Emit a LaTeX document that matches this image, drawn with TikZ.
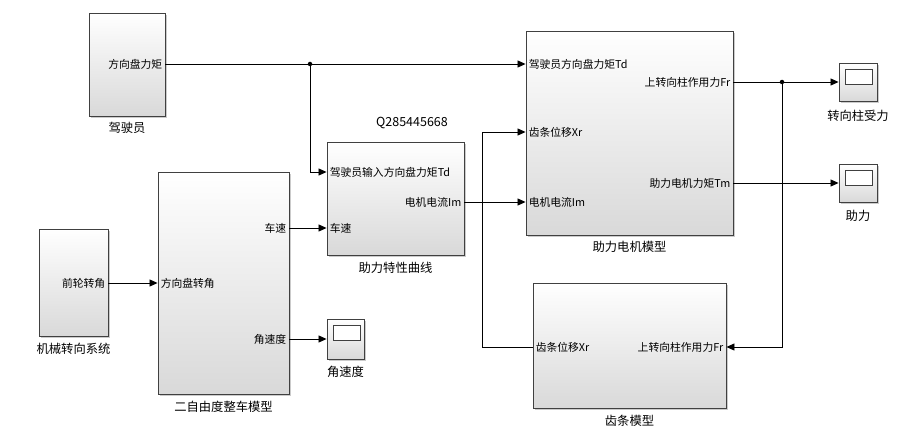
\documentclass[tikz,border=0pt]{standalone}
\usepackage{fontspec}
\newfontfamily\cjk{Noto Sans CJK SC}
\usetikzlibrary{arrows.meta,shadows,positioning}

\begin{document}
\begin{tikzpicture}[x=1pt,y=-1pt,
  blk/.style={draw=black!75,line width=0.9pt,inner sep=0pt,
    top color=white,middle color=white!96!black,bottom color=black!15,
    drop shadow={shadow xshift=1.8pt,shadow yshift=-1.8pt,fill=black!40,opacity=0.5}},
  scopeblk/.style={blk,minimum width=38pt,minimum height=38pt,
    path picture={\draw[line width=0.8pt,fill=white]
      ([shift={(6pt,-6pt)}]path picture bounding box.north west) rectangle ++(27pt,-15pt);}},
  port/.style={font=\cjk\fontsize{10.8}{11}\selectfont,inner sep=0pt},
  captxt/.style={font=\cjk\fontsize{12.3}{13}\selectfont,inner sep=0pt},
  sig/.style={line width=0.85pt,-{Triangle[length=8pt,width=7pt]}},
  dot/.style={circle,fill,inner sep=0pt,minimum size=4.5pt}
]
\useasboundingbox[fill=white] (0,0) rectangle (899,446);

% blocks
\node[blk,minimum width=76pt,minimum height=103pt] (drv) at (127,64.5) {};
\node[blk,minimum width=69pt,minimum height=107pt] (mech) at (73.5,282.5) {};
\node[blk,minimum width=131pt,minimum height=222pt] (veh) at (223.5,283) {};
\node[blk,minimum width=137pt,minimum height=113pt] (crv) at (395.5,198.5) {};
\node[blk,minimum width=207pt,minimum height=204pt] (mot) at (629.5,133) {};
\node[blk,minimum width=193pt,minimum height=125pt] (rack) at (629.5,345.5) {};
\node[scopeblk] (sc1) at (858,82) {};
\node[scopeblk] (sc2) at (858,183) {};
\node[scopeblk,minimum width=37pt,minimum height=40pt] (sc3) at (345.5,339) {};

% port labels
\node[port,anchor=east] (drv-o1) at ([xshift=-3pt]drv.east |- 0,64) {方向盘力矩};
\node[port,anchor=east] (mech-o1) at ([xshift=-3pt]mech.east |- 0,283) {前轮转角};
\node[port,anchor=west] (veh-i1) at ([xshift=3pt]veh.west |- 0,283) {方向盘转角};
\node[port,anchor=east] (veh-o1) at ([xshift=-3pt]veh.east |- 0,228) {车速};
\node[port,anchor=east] (veh-o2) at ([xshift=-3pt]veh.east |- 0,339) {角速度};
\node[port,anchor=west] (crv-i1) at ([xshift=3pt]crv.west |- 0,172) {驾驶员输入方向盘力矩Td};
\node[port,anchor=west] (crv-i2) at ([xshift=3pt]crv.west |- 0,228) {车速};
\node[port,anchor=east] (crv-o1) at ([xshift=-3pt]crv.east |- 0,202) {电机电流Im};
\node[port,anchor=west] (mot-i1) at ([xshift=3pt]mot.west |- 0,64) {驾驶员方向盘力矩Td};
\node[port,anchor=west] (mot-i2) at ([xshift=3pt]mot.west |- 0,132) {齿条位移Xr};
\node[port,anchor=west] (mot-i3) at ([xshift=3pt]mot.west |- 0,202) {电机电流Im};
\node[port,anchor=east] (mot-o1) at ([xshift=-3pt]mot.east |- 0,82) {上转向柱作用力Fr};
\node[port,anchor=east] (mot-o2) at ([xshift=-3pt]mot.east |- 0,183) {助力电机力矩Tm};
\node[port,anchor=west] (rack-o1) at ([xshift=3pt]rack.west |- 0,347) {齿条位移Xr};
\node[port,anchor=east] (rack-i1) at ([xshift=-3pt]rack.east |- 0,347) {上转向柱作用力Fr};

% captions
\node[captxt,below=6pt of drv] (drv-cap) {驾驶员};
\node[captxt,below=6pt of mech] (mech-cap) {机械转向系统};
\node[captxt,below=6pt of veh] (veh-cap) {二自由度整车模型};
\node[captxt,below=6pt of crv] (crv-cap) {助力特性曲线};
\node[captxt,below=6pt of mot] (mot-cap) {助力电机模型};
\node[captxt,below=6pt of rack] (rack-cap) {齿条模型};
\node[captxt,below=8pt of sc1] (sc1-cap) {转向柱受力};
\node[captxt,below=8pt of sc2] (sc2-cap) {助力};
\node[captxt,below=6pt of sc3] (sc3-cap) {角速度};
\node[font=\cjk\fontsize{12.5}{13}\selectfont,inner sep=0pt] (qq) at (412,123) {Q285445668};

% signals
\coordinate (j1) at (310,64);
\coordinate (j2) at (782,82);
\coordinate (k1) at (482,132);
\draw[sig] (drv.east |- drv-o1) -- (mot.west |- mot-i1);
\node[dot] at (j1) {};
\draw[sig] (j1) |- (crv.west |- crv-i1);
\draw[sig] (mech.east |- mech-o1) -- (veh.west |- veh-i1);
\draw[sig] (veh.east |- veh-o1) -- (crv.west |- crv-i2);
\draw[sig] (veh.east |- veh-o2) -- (sc3.west);
\draw[sig] (crv.east |- crv-o1) -- (mot.west |- mot-i3);
\draw[sig] (rack.west |- rack-o1) -| (k1) -- (mot.west |- mot-i2);
\draw[sig] (mot.east |- mot-o1) -- (sc1.west);
\node[dot] at (j2) {};
\draw[sig] (j2) |- (rack.east |- rack-i1);
\draw[sig] (mot.east |- mot-o2) -- (sc2.west);

\end{tikzpicture}
\end{document}
